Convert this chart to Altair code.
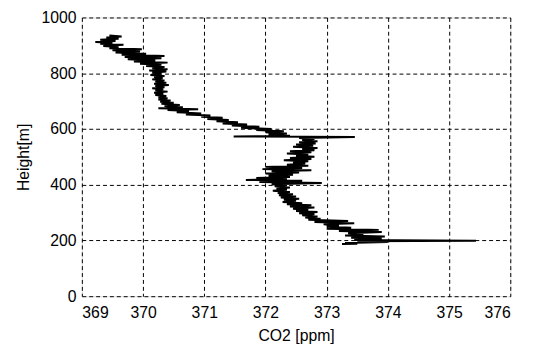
import altair as alt
import pandas as pd

height_m = [935, 932, 928, 924, 920, 916, 912, 909, 906, 902, 898, 894, 890, 886, 882, 878, 874, 870, 866, 862,
            858, 854, 850, 846, 842, 838, 834, 830, 826, 822, 818, 814, 810, 806, 802, 798, 794, 790, 786, 782,
            778, 774, 770, 766, 762, 758, 754, 750, 746, 742, 738, 734, 730, 726, 722, 718, 714, 710, 706, 702,
            698, 694, 690, 686, 682, 678, 674, 671, 668, 664, 660, 656, 652, 648, 644, 640, 636, 632, 628, 624,
            620, 616, 612, 608, 604, 600, 596, 592, 588, 584, 580, 576, 573, 571, 568, 564, 560, 556, 552, 548,
            544, 540, 536, 532, 528, 524, 520, 516, 512, 508, 504, 500, 496, 492, 488, 484, 480, 476, 472, 468,
            464, 460, 456, 452, 448, 444, 440, 436, 432, 428, 424, 420, 417, 414, 410, 406, 402, 398, 394, 390,
            386, 382, 378, 374, 370, 366, 362, 358, 354, 350, 346, 342, 338, 334, 330, 326, 322, 318, 314, 310,
            306, 302, 298, 294, 290, 286, 282, 278, 274, 270, 266, 262, 258, 254, 250, 246, 242, 238, 234, 230,
            226, 222, 218, 214, 210, 206, 202, 199, 197, 194, 191, 188, 187]

co2_ppm = [369.45, 369.65, 369.40, 369.60, 369.30, 369.55, 369.22, 369.50, 369.30, 369.68, 369.35, 369.60, 369.45, 369.98, 369.50, 369.95, 369.55, 370.05, 369.65, 370.35,
           369.70, 370.30, 369.75, 370.20, 369.85, 370.40, 369.95, 370.30, 370.05, 370.35, 370.15, 370.40, 370.10, 370.38, 370.15, 370.30, 370.12, 370.35, 370.18, 370.32,
           370.15, 370.35, 370.20, 370.38, 370.18, 370.42, 370.20, 370.35, 370.15, 370.33, 370.20, 370.40, 370.18, 370.33, 370.20, 370.38, 370.25, 370.40, 370.25, 370.45,
           370.28, 370.50, 370.30, 370.60, 370.35, 370.65, 370.25, 370.90, 370.40, 370.75, 370.55, 370.95, 370.70, 371.10, 370.95, 371.30, 371.05, 371.40, 371.20, 371.55,
           371.30, 371.70, 371.45, 371.90, 371.60, 372.10, 371.85, 372.30, 372.00, 372.35, 372.05, 372.40, 371.48, 373.46, 372.55, 372.80, 372.60, 372.85, 372.55, 372.82,
           372.50, 372.78, 372.45, 372.85, 372.60, 372.80, 372.40, 372.75, 372.35, 372.70, 372.50, 372.80, 372.40, 372.75, 372.30, 372.70, 372.45, 372.65, 372.35, 372.70,
           372.00, 372.60, 371.95, 372.75, 372.10, 372.55, 372.00, 372.45, 372.05, 372.40, 371.85, 372.35, 371.68, 372.60, 371.90, 372.92, 372.10, 372.35, 372.15, 372.40,
           372.18, 372.35, 372.12, 372.40, 372.20, 372.45, 372.22, 372.50, 372.25, 372.55, 372.30, 372.50, 372.28, 372.60, 372.35, 372.75, 372.40, 372.80, 372.45, 372.70,
           372.50, 372.85, 372.55, 372.80, 372.60, 372.85, 372.65, 372.90, 372.70, 373.35, 372.80, 373.45, 372.95, 373.20, 373.00, 373.40, 373.00, 373.85, 373.20, 373.90,
           373.35, 373.60, 373.30, 373.95, 373.40, 373.90, 373.45, 375.44, 373.50, 374.00, 373.30, 373.50, 373.25]

x_ticks = [369, 370, 371, 372, 373, 374, 375, 376]
y_ticks = [0, 200, 400, 600, 800, 1000]

df = pd.DataFrame({"i": list(range(len(height_m))), "co2": co2_ppm, "h": height_m})

FONT = "Liberation Sans"

chart = alt.Chart(df).mark_line(color="black", strokeWidth=2, strokeJoin="miter", strokeMiterLimit=2).encode(
    x=alt.X("co2:Q", scale=alt.Scale(domain=[369, 376], nice=False, zero=False),
            axis=alt.Axis(values=x_ticks, format="d", title="CO2 [ppm]", grid=True, gridColor="black",
                          gridDash=[4, 3], gridOpacity=1, gridWidth=1, ticks=False, domain=False,
                          labelFont=FONT, labelFontSize=16, labelColor="black", labelPadding=9,
                          titleFont=FONT, titleFontSize=16, titleFontWeight="normal", titleColor="black",
                          titlePadding=7)),
    y=alt.Y("h:Q", scale=alt.Scale(domain=[0, 1000], nice=False, zero=False),
            axis=alt.Axis(values=y_ticks, format="d", title="Height[m]", grid=True, gridColor="black",
                          gridDash=[4, 3], gridOpacity=1, gridWidth=1, ticks=False, domain=False,
                          labelFont=FONT, labelFontSize=16, labelColor="black", labelPadding=6,
                          titleFont=FONT, titleFontSize=16, titleFontWeight="normal", titleColor="black",
                          titlePadding=10)),
    order="i:Q",
).properties(
    width=435, height=283,
    autosize=alt.AutoSizeParams(type="none"),
    padding={"left": 75, "top": 7, "right": 19, "bottom": 53},
).configure_view(stroke="#222222", strokeWidth=1.5).configure(background="white")

chart.save("out.html", embed_options={"renderer": "svg", "actions": False})
